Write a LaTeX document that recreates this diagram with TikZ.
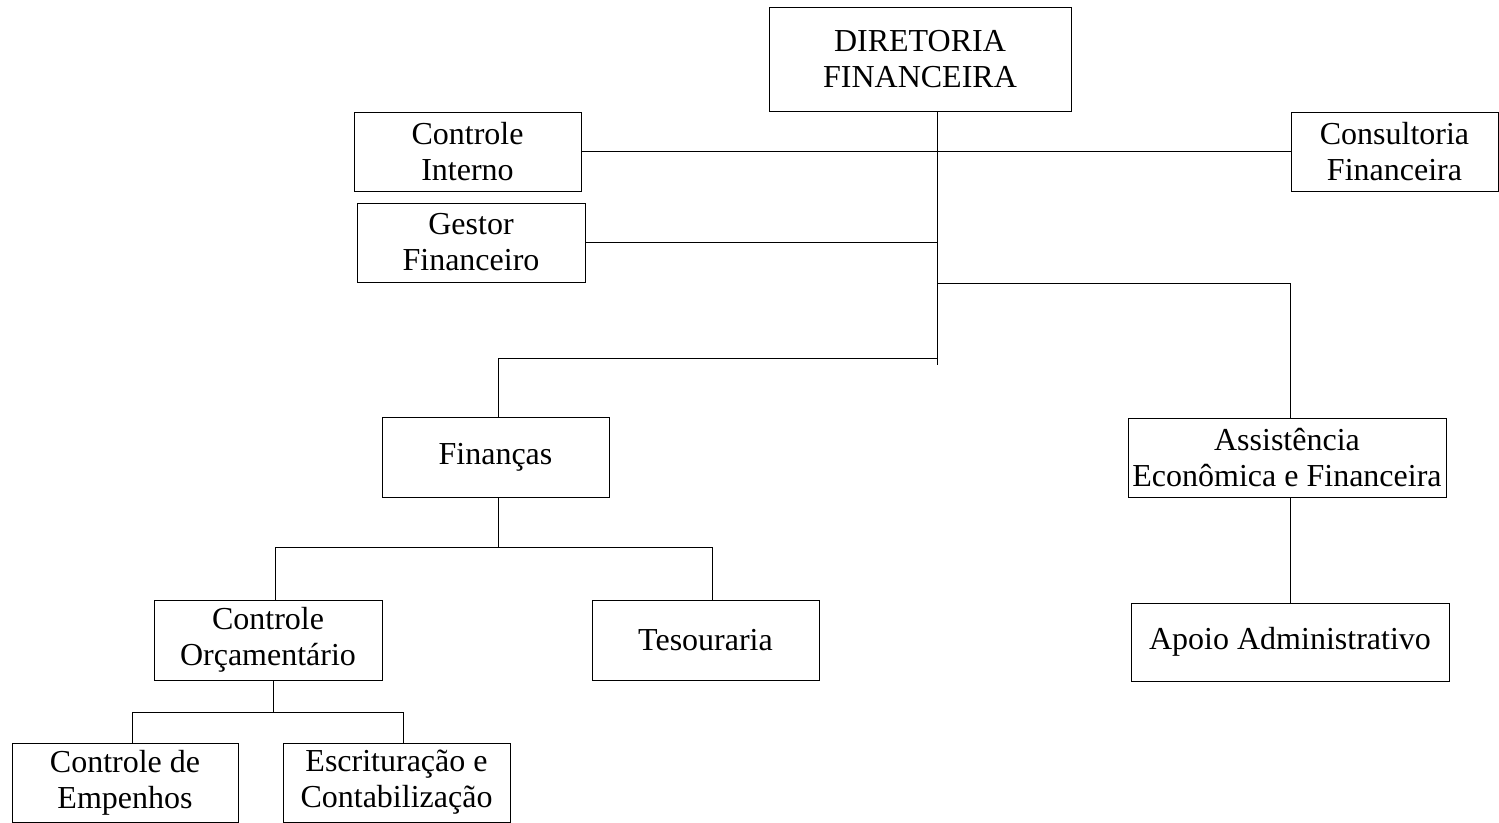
\documentclass[tikz,border=0pt]{standalone}
\usepackage{fontspec}
\setmainfont{Liberation Serif}
\tikzstyle{caixa}=[draw, line width=1pt, align=center, inner sep=0pt, minimum width=227pt, minimum height=79pt, font=\fontsize{32}{36}\selectfont]
\tikzstyle{ligacao}=[line width=0.9pt]

\begin{document}
\begin{tikzpicture}[x=1pt, y=1pt]
		\useasboundingbox (0, 0) rectangle (1499, -822);
		% caixas
		\node(dir)[caixa, minimum width=302pt, minimum height=104pt] at (920, -59) {DIRETORIA\\FINANCEIRA};
		\node(ci)[caixa] at (467.5, -151.5) {Controle\\Interno};
		\node(cons)[caixa, minimum width=207pt] at (1394.5, -151.5) {Consultoria\\Financeira};
		\node(gest)[caixa, minimum width=228pt] at (471, -242.5) {Gestor\\Financeiro};
		\node(fin)[caixa, minimum height=80pt] at (495.5, -457) {Finanças};
		\node(aef)[caixa, minimum width=318pt] at (1287, -457.5) {Assistência\\Econômica e Financeira};
		\node(co)[caixa, minimum width=228pt, minimum height=80pt] at (268, -640) {Controle\\Orçamentário};
		\node(tes)[caixa, minimum height=80pt] at (705.5, -640) {Tesouraria};
		\node(apoio)[caixa, minimum width=318pt, minimum height=78pt] at (1290, -642) {Apoio Administrativo};
		\node(emp)[caixa, minimum width=226pt] at (125, -782.5) {Controle de\\Empenhos};
		\node(esc)[caixa] at (396.5, -782.5) {Escrituração e\\Contabilização};
		% ligacoes
		\coordinate (tronco) at (937, -365);
		\coordinate (ramodir) at (937, -283);
		\coordinate (ramoesq) at (937, -358);
		\draw[ligacao] (dir.south -| tronco) -- (tronco);
		\draw[ligacao] (ci) -- (cons);
		\draw[ligacao] (gest) -- (gest -| tronco);
		\draw[ligacao] (ramodir) -| (aef.north -| apoio);
		\draw[ligacao] (ramoesq) -| ([xshift=2.5pt]fin.north);
		\draw[ligacao] (aef.south -| apoio) -- (apoio.north);
		\draw[ligacao] ([xshift=2.5pt]fin.south) -- ++(0, -50) coordinate (finb);
		\draw[ligacao] ([xshift=7pt]co.north) |- (finb) -| ([xshift=7pt]tes.north);
		\draw[ligacao] ([xshift=5pt]co.south) -- ++(0, -32) coordinate (cob);
		\draw[ligacao] ([xshift=7pt]emp.north) |- (cob) -| ([xshift=7pt]esc.north);
\end{tikzpicture}
\end{document}
